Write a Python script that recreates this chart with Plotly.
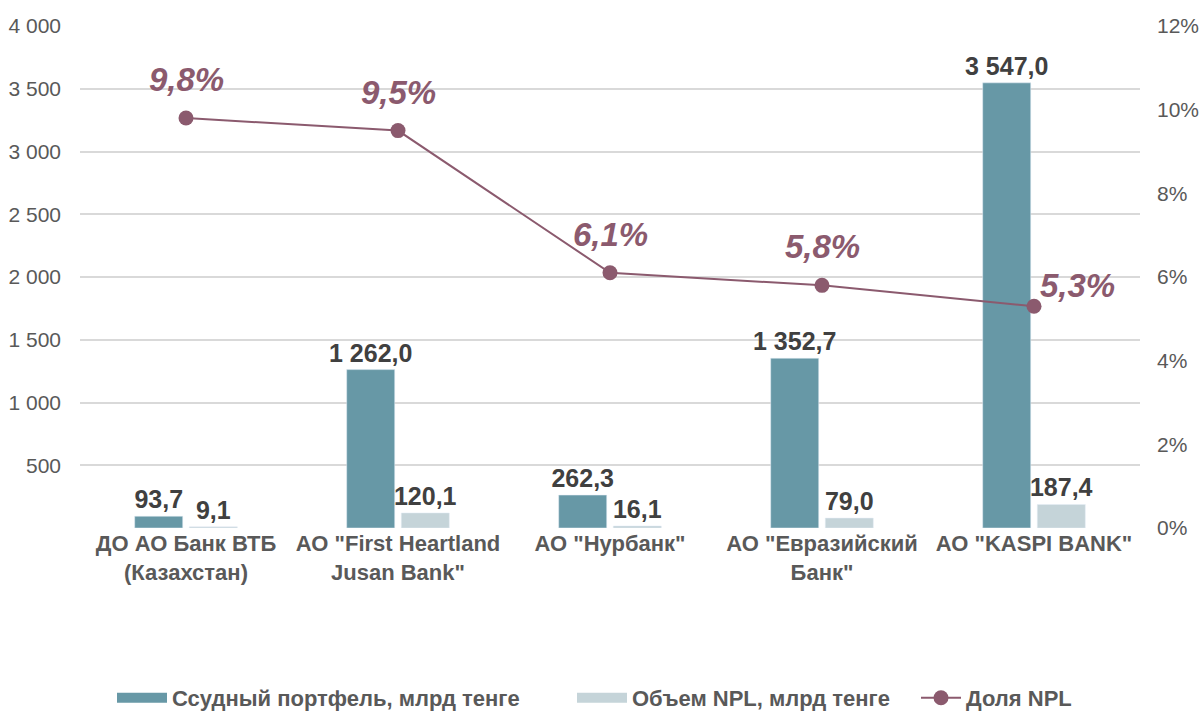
import plotly.graph_objects as go

categories = ['ДО АО Банк ВТБ<br>(Казахстан)', 'АО "First Heartland<br>Jusan Bank"',
              'АО "Нурбанк"', 'АО "Евразийский<br>Банк"', 'АО "KASPI BANK"']
portfolio = [93.7, 1262.0, 262.3, 1352.7, 3547.0]
npl_volume = [9.1, 120.1, 16.1, 79.0, 187.4]
npl_share = [0.098, 0.095, 0.061, 0.058, 0.053]
left_ticks = [0, 500, 1000, 1500, 2000, 2500, 3000, 3500, 4000]
right_ticks = [0, 0.02, 0.04, 0.06, 0.08, 0.10, 0.12]

FONT = "Liberation Sans Narrow, Arial Narrow, Liberation Sans, Arial, sans-serif"
C_BAR1 = "#6798A6"
C_BAR2 = "#C5D4D9"
C_LINE = "#8B5A6E"
C_TEXT = "#404040"
C_TICK = "#595959"

def fmt_thousands(v):
    return f"{int(v):,}".replace(",", " ")

fig = go.Figure()
for vals, name, col, lg in [(portfolio, "Ссудный портфель, млрд тенге", C_BAR1, "legend"),
                            (npl_volume, "Объем NPL, млрд тенге", C_BAR2, "legend2")]:
    fig.add_trace(go.Bar(
        x=categories, y=vals, name=name, showlegend=False, legendgroup=name,
        marker_color=col, texttemplate="%{y:,.1f}", textposition="outside",
        textfont=dict(family=FONT, size=25, color=C_TEXT, weight="bold"),
        cliponaxis=False, constraintext="none",
    ))
    # legend proxy with wide rectangular swatch
    fig.add_trace(go.Scatter(
        x=[None], y=[None], name=name, legendgroup=name, mode="lines", legend=lg,
        line=dict(color=col, width=14), hoverinfo="skip",
    ))
fig.add_trace(go.Scatter(
    x=categories, y=npl_share, name="Доля NPL", yaxis="y2", legend="legend3",
    mode="lines+markers", line=dict(color=C_LINE, width=2),
    marker=dict(size=15, color=C_LINE), cliponaxis=False,
))

for i, (c, v) in enumerate(zip(categories, npl_share)):
    last = i == len(categories) - 1
    fig.add_annotation(
        x=c, y=v, yref="y2", text=f"{v*100:.1f}%".replace(".", ","),
        showarrow=False,
        xanchor="left" if last else "center", yanchor="bottom",
        xshift=4 if last else 0, yshift=0 if last else 18,
        font=dict(family=FONT, size=33, color=C_LINE, weight="bold", style="italic"),
    )

legend_font = dict(family=FONT, size=22, color=C_TICK, weight="bold")
def legend_at(px, iw):
    return dict(orientation="h", x=px / 1202, xref="container", xanchor="left",
                y=14 / 712, yref="container", yanchor="middle",
                font=legend_font, itemwidth=iw, bgcolor="rgba(0,0,0,0)")

fig.update_layout(
    width=1202, height=712,
    margin=dict(l=80, r=62, t=26, b=184),
    paper_bgcolor="white", plot_bgcolor="white",
    separators=", ",
    barmode="group", bargap=0.485, bargroupgap=0.12,
    font=dict(family=FONT, color=C_TICK),
    showlegend=True,
    legend=legend_at(112, 50),
    legend2=legend_at(572, 50),
    legend3=legend_at(916, 40),
    xaxis=dict(tickfont=dict(family=FONT, size=22, color=C_TICK, weight="bold"),
               showline=False, ticks="", showgrid=False),
    yaxis=dict(range=[0, 4000], tickvals=left_ticks,
               ticktext=["" if t == 0 else fmt_thousands(t) for t in left_ticks],
               showgrid=True, gridcolor="#D9D9D9", gridwidth=1.5, zeroline=False,
               tickfont=dict(family=FONT, size=21, color=C_TICK), ticklen=0,
               ticklabelstandoff=18, automargin=False),
    yaxis2=dict(range=[0, 0.12], tickvals=right_ticks, tickformat=".0%",
                overlaying="y", side="right", showgrid=False, zeroline=False,
                tickfont=dict(family=FONT, size=21, color=C_TICK), ticklabelstandoff=16,
                automargin=False),
)

fig.write_html("out.html", config={"displayModeBar": False},
               post_script="document.body.style.margin='0';")
